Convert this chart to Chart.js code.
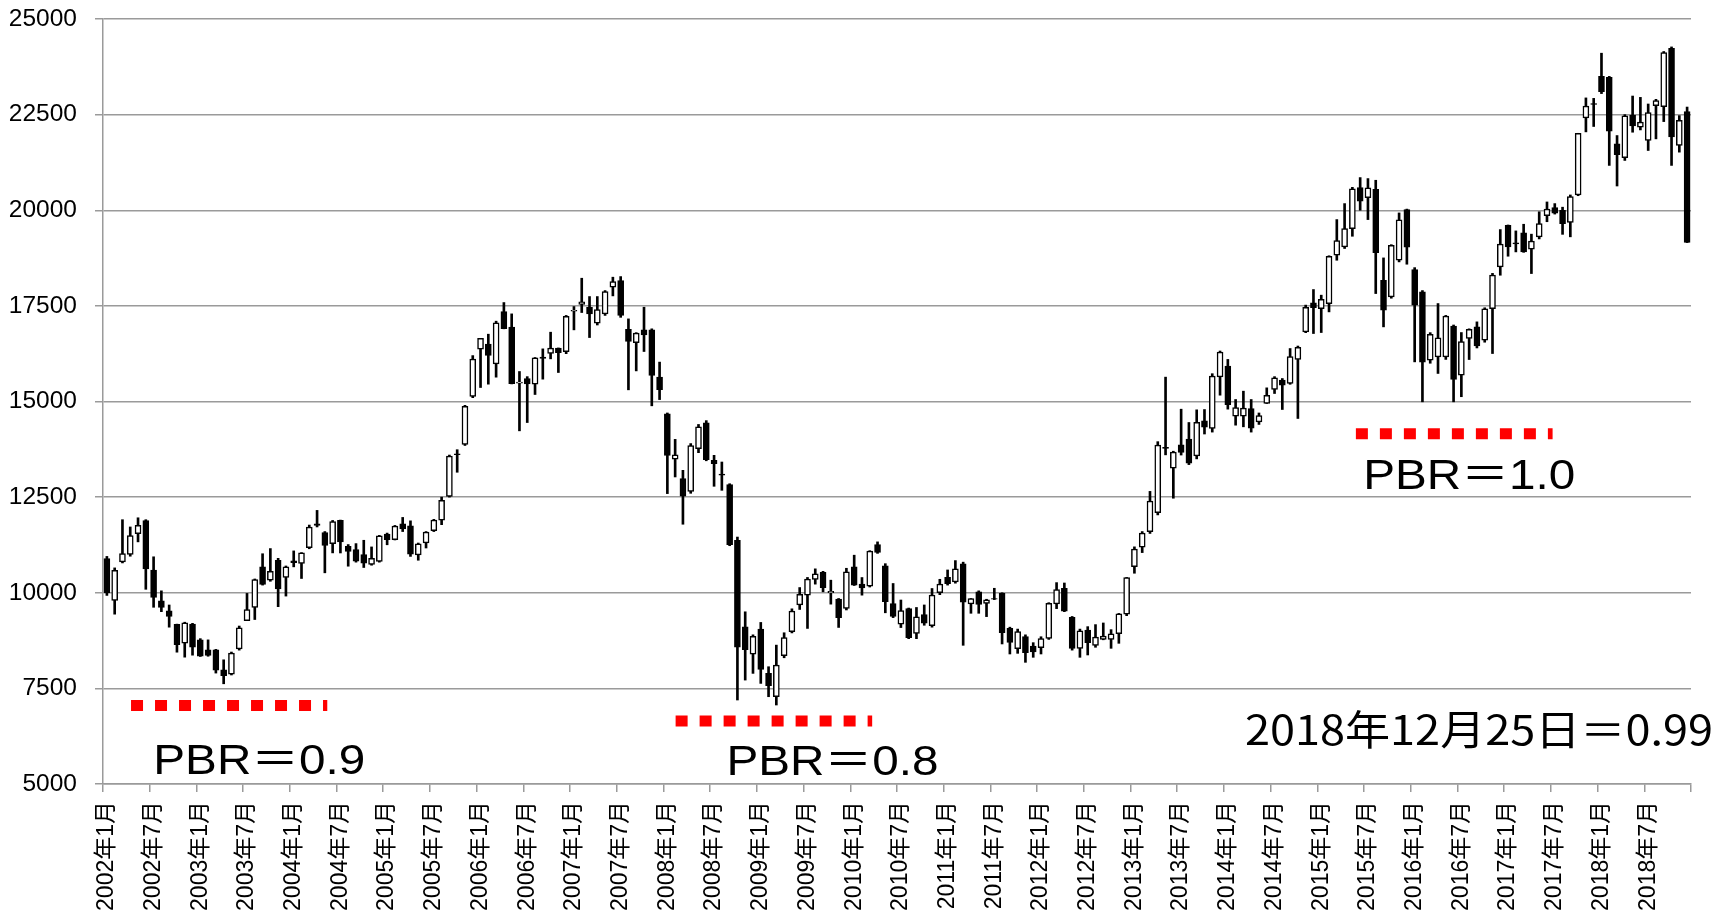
<!DOCTYPE html>
<html><head><meta charset="utf-8">
<script src="https://cdn.jsdelivr.net/npm/chart.js@4.4.1/dist/chart.umd.min.js"></script>
<style>html,body{margin:0;padding:0;background:#fff;overflow:hidden;}canvas{display:block;}</style>
</head><body>
<canvas id="c" width="1734" height="924"></canvas>
<script>
// ---- categories (monthly, Jan 2002 .. Dec 2018) ----
const years = [2002,2003,2004,2005,2006,2007,2008,2009,2010,2011,2012,2013,2014,2015,2016,2017,2018];
const monthNums = [1,2,3,4,5,6,7,8,9,10,11,12];
const categories = [];
years.forEach(y => monthNums.forEach(m => categories.push(y + '年' + m + '月')));
const labelMonths = [1, 7];

// ---- series (Nikkei 225 monthly candles) ----
const opens = [
10894, 9800,10807,11000,11545,11890,10590, 9790, 9530, 9176, 8680, 9184,
 8768, 8507, 8507, 7986, 7874, 8533, 9271, 9618,10677,10330,10850,10399,
10833,10764,11181,11800,11571,11283,11892,11215,11127,11000,10738,10816,
11533,11388,11800,11750,10990,11300,11620,11900,12520,13630,13880,15130,
16370,16500,15980,17352,16943,15480,15600,15455,16160,16254,16394,16300,
17360,17540,17465,17047,17290,17990,18160,16890,16540,16873,16873,15636,
14680,13490,12983,12652,13766,14445,13462,13100,12827,11373, 9110, 8397,
 9050, 7892, 7283, 8353, 8980, 9680, 9937,10346,10536,10000, 9833, 9589,
10677,10224,10172,11260,10703, 9720, 9180, 9589, 8936, 9429, 9140,10004,
10405,10283,10753, 9707,10021, 9724, 9850, 9986, 9070, 8539, 8852, 8608,
 8565, 8809, 9707,10117, 9358, 8547, 9027, 8626, 8783, 8783, 8930, 9437,
10684,11189,11599,12096,13800,13256,13866,14015,13579,14495,14294,15645,
15923,14617,14617,14817,14468,14948,15313,15557,15470,16097,16820,17578,
17430,17560,18824,19041,19521,20592,20331,20549,18171,17735,18693,20017,
18450,17866,16080,16167,16167,16969,15688,16646,16951,16603,17430,18519,
19608,19146,19408,18981,19300,19860,20070,20000,19679,20400,22413,22790,
23498,23472,21736,21372,22491,22170,21823,22734,22708,24236,21693,22578
];
const highs = [
10950,10650,11910,11720,11960,11910,10940,10050, 9680, 9180, 9230, 9200,
 8800, 8768, 8520, 8247, 8450, 9130, 9983,10360,11020,11155,10900,10700,
11094,11050,11770,12153,11600,11890,11900,11260,11285,11372,11198,11500,
11560,11760,11969,11880,11300,11600,11920,12500,13600,13740,14900,16200,
16650,16760,17100,17587,17291,15784,15650,16150,16376,16812,16400,17250,
17483,18223,17744,17744,17900,18250,18266,17160,16800,17465,16900,16030,
14700,14010,13201,13900,14400,14500,13592,13418,12850,11456, 9502, 8900,
 9224, 8066, 8631, 8954, 9580,10136,10400,10625,10560,10329, 9850,10640,
10982,10398,11100,11330,10760,10242, 9810, 9600, 9615, 9681,10111,10352,
10596,10841,10800, 9850,10050, 9830,10117,10000, 9100, 9050, 8900, 8695,
 8850, 9740,10265,10255, 9380, 9050, 9114, 9167, 9210, 9035, 9460,10400,
11200,11600,12650,13950,15637,13700,14799,14451,14782,14790,15727,16320,
16100,15052,15270,15052,14700,15357,15650,15601,16385,16450,17520,17927,
17780,18810,19756,20174,20600,20854,20828,20784,18754,19100,19930,20030,
18500,17900,16800,17561,17251,17000,16803,16900,17082,17450,18350,19495,
19615,19460,19634,19375,19960,20217,20174,20080,20400,22012,22937,22925,
24106,23500,21953,22500,22986,22951,22778,22900,24150,24270,22474,22698
];
const lows = [
 9930, 9440,10780,10955,11330,10090, 9620, 9505, 9100, 8446, 8316, 8368,
 8334, 8340, 7900, 7620, 7850, 8500, 9271, 9300,10200,10300, 9636, 9913,
10677,10373,11150,11720,10521,11042,11040,10694,10800,10660,10720,10800,
11254,11380,11600,10950,10850,11170,11600,11780,12500,13150,13850,15100,
15366,15453,15636,16900,15460,14233,14450,15183,15584,16115,15758,16250,
16873,17326,16672,17000,17250,17761,17200,15305,15800,16307,14887,15050,
12592,13027,11791,12600,13662,13450,12783,12678,11230, 7196, 7717, 7892,
 7630, 7282, 7065, 8300, 8950, 9563, 9067,10225,10024, 9702, 9093, 9550,
10190, 9937,10150,11030, 9476, 9350, 9090, 8800, 8800, 9150, 9100, 9950,
10200,10250, 8626, 9463, 9463, 9376, 9820, 8661, 8399, 8416, 8181, 8312,
 8399, 8780, 9585, 9506, 8500, 8312, 8373, 8574, 8770, 8547, 8678, 9400,
10510,11050,11550,12035,13605,12471,13600,13350,13500,14150,14200,15165,
14800,14381,14338,14200,14400,14948,15209,14791,15450,14556,16800,16777,
16803,17343,18693,19000,19320,20000,19756,17822,16951,17700,18650,18589,
16036,14991,16000,15733,16100,14991,15125,16097,16400,16550,16254,18301,
18798,18911,18900,18345,19250,19700,19900,19370,19305,20380,22049,22190,
23050,21172,20634,21302,22040,22100,21562,21866,22318,21172,21519,19155
];
const closes = [
 9998,10588,11025,11493,11764,10622, 9878, 9619, 9383, 8640, 9216, 8579,
 8340, 8363, 7973, 7831, 8425, 9083, 9563,10344,10219,10560,10101,10677,
10784,11042,11715,11762,11236,11859,11326,11082,10824,10771,10899,11489,
11388,11741,11669,11009,11277,11584,11900,12414,13574,13607,14872,16111,
16650,16205,17060,16906,15467,15505,15457,16141,16128,16399,16274,17226,
17383,17604,17288,17400,17876,18138,17249,16569,16786,16738,15681,15308,
13592,13603,12526,13850,14339,13481,13377,13073,11260, 8577, 8512, 8860,
 7994, 7568, 8110, 8828, 9523, 9958,10357,10493,10133,10035, 9346,10546,
10198,10126,11090,11057, 9769, 9383, 9537, 8824, 9369, 9202, 9937,10229,
10238,10624, 9755, 9850, 9694, 9816, 9833, 8955, 8700, 8988, 8435, 8455,
 8803, 9723,10084, 9521, 8543, 9007, 8695, 8840, 8870, 8928, 9446,10395,
11139,11559,12398,13861,13775,13677,13668,13389,14456,14328,15662,16291,
14915,14841,14828,14304,14632,15162,15621,15425,16174,16414,17460,17451,
17674,18798,19207,19520,20563,20236,20585,18890,17388,19083,19747,19034,
17518,16027,16759,16666,17235,15576,16569,16887,16450,17425,18308,19114,
19041,19119,18909,19197,19651,20033,19925,19646,20356,22012,22725,22765,
23098,22068,21454,22468,22202,22305,22554,22865,24120,21920,22351,19156
];

// ---- y axis ticks ----
const yTicks = [5000,7500,10000,12500,15000,17500,20000,22500,25000];

// ---- PBR reference levels (value, start/end in months from Jan 2002) ----
const pbrLabels = ['PBR＝0.9', 'PBR＝0.8', 'PBR＝1.0'];
const pbrValues = [7052, 6647, 14155];
const pbrStart  = [3.60, 73.56, 160.95];
const pbrEnd    = [28.81, 98.81, 186.22];
const pbrTextAt = [[6.46, 5261], [80.09, 5235], [161.89, 12712]];
const noteText  = '2018年12月25日＝0.99';
const noteAt    = [146.7, 6020];

const GRID = '#9a9a9a';

const datasets = [
  {
    type: 'bar', label: 'wick', order: 3, grouped: false,
    data: lows.map((l, i) => [l, highs[i]]),
    backgroundColor: '#000', borderWidth: 0, barThickness: 2
  },
  {
    type: 'bar', label: 'body', order: 2, grouped: false,
    data: opens.map((o, i) => [o, closes[i]]),
    backgroundColor: opens.map((o, i) => closes[i] >= o ? '#ffffff' : '#000000'),
    borderColor: '#000', borderWidth: 1.5, borderSkipped: false, barThickness: 6
  }
];
pbrValues.forEach((v, k) => {
  datasets.push({
    type: 'line', label: pbrLabels[k], order: 1, xAxisID: 'x2',
    data: [{x: pbrStart[k], y: v}, {x: pbrEnd[k], y: v}],
    borderColor: '#ff0000', borderWidth: 11, borderDash: [12, 12], borderCapStyle: 'butt',
    pointRadius: 0, fill: false, tension: 0
  });
});

const textPlugin = {
  id: 'notes',
  afterDraw(chart) {
    const ctx = chart.ctx, xs = chart.scales.x2, ys = chart.scales.y;
    const items = pbrLabels.map((t, k) => ({t, x: pbrTextAt[k][0], y: pbrTextAt[k][1],
      font: '43px "Liberation Sans","Noto Sans CJK JP",sans-serif', w: 212}));
    items.push({t: noteText, x: noteAt[0], y: noteAt[1],
      font: '41px "Noto Sans CJK JP","Liberation Sans",sans-serif', w: 468});
    ctx.save();
    ctx.fillStyle = '#000';
    ctx.textAlign = 'left';
    ctx.textBaseline = 'alphabetic';
    items.forEach(it => {
      ctx.font = it.font;
      const w = ctx.measureText(it.t).width;
      ctx.save();
      ctx.translate(xs.getPixelForValue(it.x), ys.getPixelForValue(it.y));
      ctx.scale(it.w / w, 1);
      ctx.fillText(it.t, 0, 0);
      ctx.restore();
    });
    ctx.restore();
  }
};

new Chart(document.getElementById('c'), {
  data: { labels: categories, datasets },
  plugins: [textPlugin],
  options: {
    responsive: false, animation: false, devicePixelRatio: 1,
    layout: { padding: { left: 0, right: 43, top: 19, bottom: 0 } },
    plugins: { legend: { display: false }, tooltip: { enabled: false } },
    scales: {
      x: {
        type: 'category', offset: true,
        afterFit: s => { s.height = 140; s.paddingLeft = 0; s.paddingRight = 0; },
        grid: {
          offset: true, drawOnChartArea: false, drawTicks: true, tickLength: 8, lineWidth: 1.5,
          color: c => (c.type !== 'tick' || c.index % 6 === 0) ? GRID : 'rgba(0,0,0,0)'
        },
        border: { display: true, color: GRID, width: 1.5 },
        ticks: {
          autoSkip: false, minRotation: 90, maxRotation: 90, padding: 9,
          color: '#000', font: { family: '"Liberation Sans","Noto Sans CJK JP",sans-serif', size: 23 },
          callback: function (v, i) {
            const m = (i % 12) + 1;
            return labelMonths.includes(m) ? categories[i] : '';
          }
        }
      },
      x2: { type: 'linear', display: false, min: 0, max: categories.length },
      y: {
        min: yTicks[0], max: yTicks[yTicks.length - 1],
        afterFit: s => { s.width = 103; s.paddingTop = 0; s.paddingBottom = 0; },
        afterBuildTicks: s => { s.ticks = yTicks.map(v => ({value: v})); },
        grid: { color: GRID, lineWidth: 1.5, tickLength: 8, drawTicks: true },
        border: { display: true, color: GRID, width: 1.5 },
        ticks: {
          padding: 18, color: '#000',
          font: { family: '"Liberation Sans","Noto Sans CJK JP",sans-serif', size: 24.5 },
          callback: v => String(v)
        }
      }
    }
  }
});
</script>
</body></html>
